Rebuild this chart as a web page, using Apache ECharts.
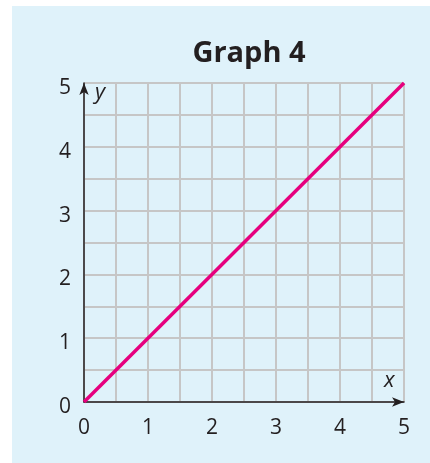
<!DOCTYPE html>
<html style="height: 100%">
<head>
    <meta charset="utf-8">
    <title>Graph 4</title>
    <script src="https://cdn.jsdelivr.net/npm/echarts@6/dist/echarts.min.js"></script>
</head>
<body style="height: 100%; margin: 0; background: #fff">
<div id="box" style="position: absolute; left: 12px; top: 6px; width: 418px; height: 457px; background: #dff2fa"></div>
<div id="container" style="position: absolute; left: 0; top: 0; width: 430px; height: 463px"></div>

<script type="text/javascript">
    var titleText = 'Graph 4';
    // the line y = x, from (0,0) to (5,5)
    var xValues = [0, 5];
    var yValues = [0, 5];
    var axisMin = 0;
    var axisMax = 5;
    var gridStep = 0.5;

    var lineData = xValues.map(function (x, i) {
        return [x, yValues[i]];
    });

    var font = '"Open Sans", "Liberation Sans", sans-serif';
    var ink = '#231f20';

    function axis(margin, extra) {
        var label = {
            color: ink,
            fontSize: 21,
            fontFamily: font,
            margin: margin,
            formatter: function (v) {
                return v % 1 === 0 ? String(v) : '';
            }
        };
        for (var k in extra) label[k] = extra[k];
        return {
            type: 'value',
            min: axisMin,
            max: axisMax,
            interval: gridStep,
            axisLine: {
                show: true,
                symbol: ['none', 'arrow'],
                symbolSize: [7, 12],
                lineStyle: { color: ink, width: 1.5 }
            },
            axisTick: { show: false },
            splitLine: {
                show: true,
                lineStyle: { color: '#c6c6c6', width: 2 }
            },
            axisLabel: label
        };
    }

    var dom = document.getElementById('container');
    var myChart = echarts.init(dom);

    var option = {
        backgroundColor: 'transparent',
        animation: false,
        title: {
            text: titleText,
            left: 244,
            textAlign: 'center',
            top: 34,
            textStyle: {
                color: ink,
                fontSize: 29,
                fontWeight: 'bold',
                fontFamily: font
            }
        },
        grid: {
            left: 84,
            right: 26,
            top: 83,
            bottom: 61
        },
        xAxis: axis(16, {}),
        yAxis: axis(13, { verticalAlign: 'top', lineHeight: 10 }),
        graphic: [
            {
                type: 'text',
                left: 95,
                top: 82,
                style: { text: 'y', fill: ink, font: 'italic 22px ' + font }
            },
            {
                type: 'text',
                left: 384,
                top: 370,
                style: { text: 'x', fill: ink, font: 'italic 22px ' + font }
            }
        ],
        series: [{
            type: 'line',
            data: lineData,
            symbol: 'none',
            lineStyle: { color: '#e6007e', width: 3.5 },
            z: 3
        }]
    };
    myChart.setOption(option);
</script>
</body>
</html>
